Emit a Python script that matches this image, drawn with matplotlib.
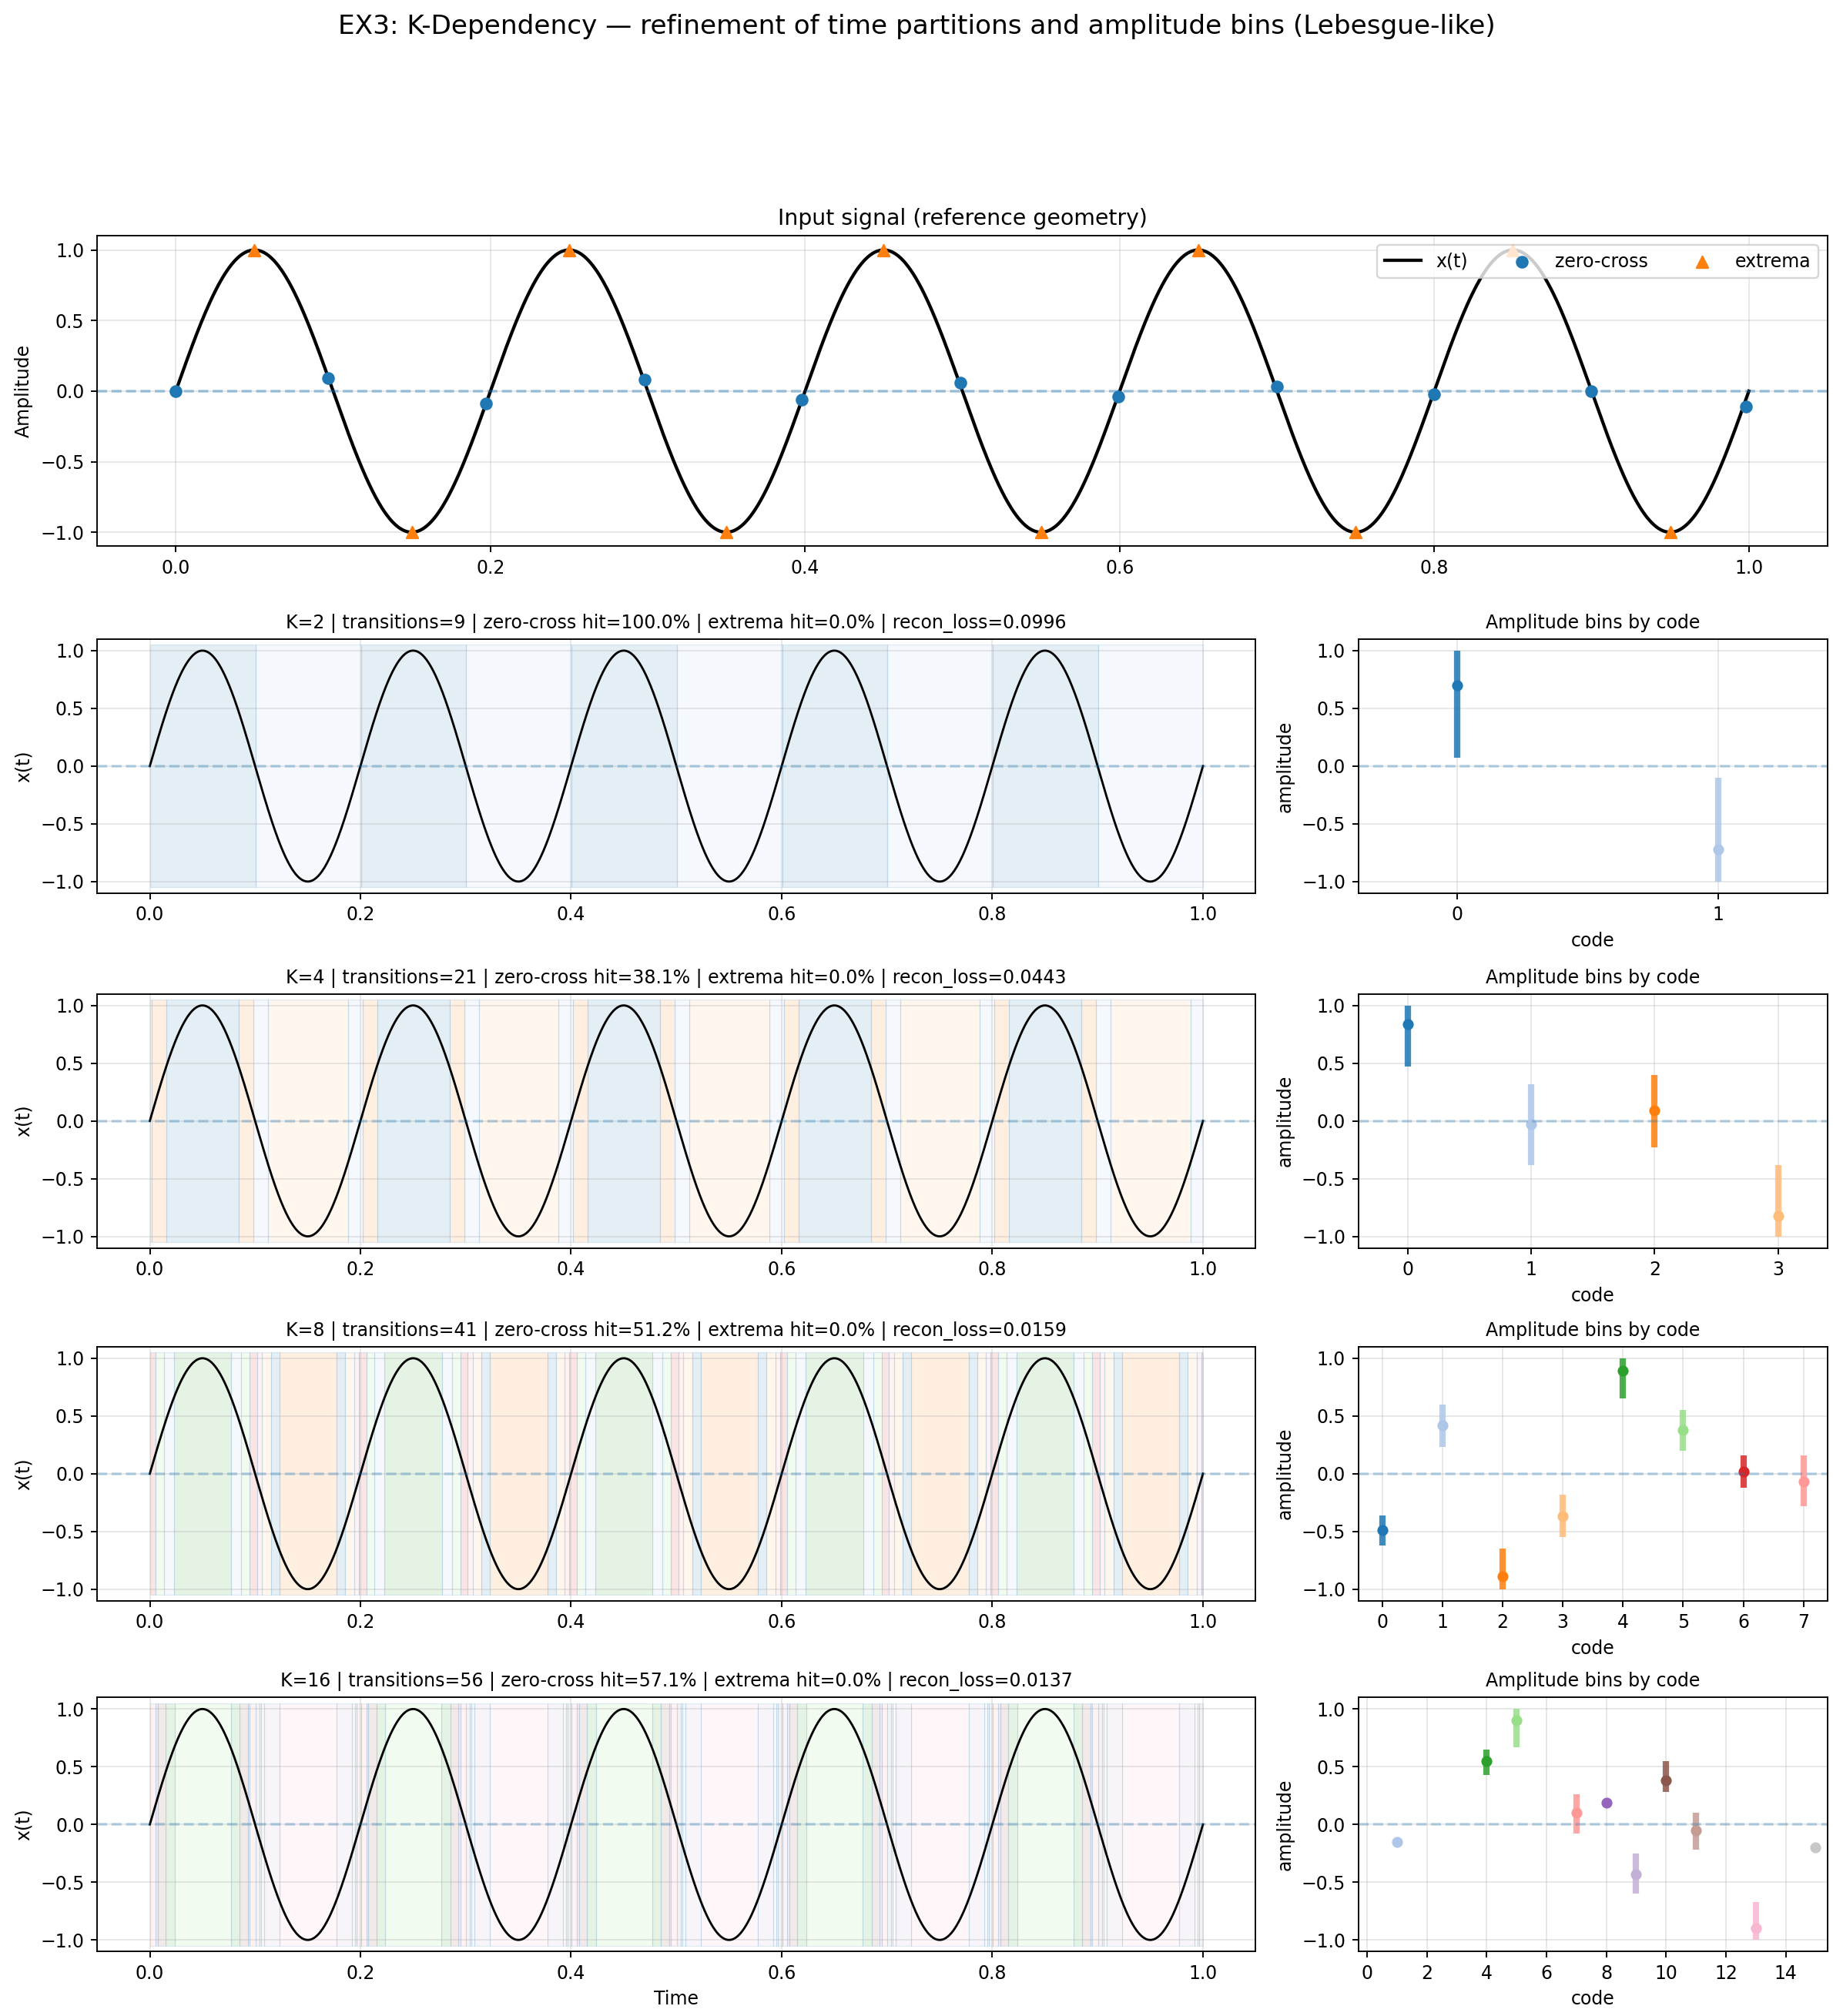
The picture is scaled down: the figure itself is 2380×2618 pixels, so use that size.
import numpy as np
import matplotlib
matplotlib.use("Agg")
import matplotlib.pyplot as plt

# zero-cross detections (time, amplitude) and extrema
zc_t = [0.0, 0.097, 0.197, 0.298, 0.398, 0.499, 0.599, 0.700, 0.800, 0.900, 0.998]
zc_v = [0.0, 0.09, -0.09, 0.08, -0.06, 0.06, -0.04, 0.03, -0.02, 0.0, -0.11]
ex_t = [0.05, 0.15, 0.25, 0.35, 0.45, 0.55, 0.65, 0.75, 0.85, 0.95]
ex_v = [1, -1, 1, -1, 1, -1, 1, -1, 1, -1]

ks = [2, 4, 8, 16]
transitions = [9, 21, 41, 56]
zc_hit = [100.0, 38.1, 51.2, 57.1]
ex_hit = [0.0, 0.0, 0.0, 0.0]
recon = [0.0996, 0.0443, 0.0159, 0.0137]

# amplitude bins: edges and code assigned to each interval
bin_edges = {
    2: [-1.01, 0.0, 1.01],
    4: [-1.01, -0.38, 0.05, 0.47, 1.01],
    8: [-1.01, -0.65, -0.45, -0.2, -0.05, 0.16, 0.4, 0.65, 1.01],
    16: [-1.01, -0.65, -0.25, -0.17, -0.12, 0.0, 0.16, 0.22, 0.45, 0.67, 1.01],
}
bin_codes = {
    2: [1, 0],
    4: [3, 1, 2, 0],
    8: [2, 0, 3, 7, 6, 5, 1, 4],
    16: [13, 9, 15, 1, 11, 7, 8, 10, 4, 5],
}

# per-code amplitude stats (code, mean, low, high)
code_ids = {2: [0, 1], 4: [0, 1, 2, 3], 8: [0, 1, 2, 3, 4, 5, 6, 7],
            16: [1, 4, 5, 7, 8, 9, 10, 11, 13, 15]}
code_mean = {2: [0.70, -0.72], 4: [0.84, -0.03, 0.09, -0.82],
             8: [-0.49, 0.42, -0.89, -0.37, 0.89, 0.38, 0.02, -0.07],
             16: [-0.15, 0.55, 0.90, 0.10, 0.19, -0.43, 0.38, -0.05, -0.90, -0.20]}
code_lo = {2: [0.07, -1.0], 4: [0.47, -0.38, -0.23, -1.0],
           8: [-0.62, 0.23, -1.0, -0.55, 0.65, 0.20, -0.12, -0.28],
           16: [-0.15, 0.43, 0.67, -0.08, 0.19, -0.60, 0.28, -0.22, -1.0, -0.20]}
code_hi = {2: [1.0, -0.10], 4: [1.0, 0.32, 0.40, -0.38],
           8: [-0.36, 0.60, -0.65, -0.18, 1.0, 0.55, 0.16, 0.16],
           16: [-0.15, 0.65, 1.0, 0.26, 0.19, -0.25, 0.55, 0.10, -0.67, -0.20]}

t = np.linspace(0, 1, 2001)
x = np.sin(10 * np.pi * t)
cmap = plt.get_cmap("tab20")

fig = plt.figure(figsize=(14, 15.4), dpi=170)
fig.suptitle("EX3: K-Dependency — refinement of time partitions and amplitude bins (Lebesgue-like)",
             fontsize=14.5, y=0.993)

ax = fig.add_axes([0.053, 0.729, 0.944, 0.154])
ax.plot(t, x, color="black", lw=1.8, label="x(t)")
ax.axhline(0, ls="--", color="tab:blue", alpha=0.4)
ax.scatter(zc_t, zc_v, color="tab:blue", s=36, zorder=3, label="zero-cross")
ax.scatter(ex_t, ex_v, color="tab:orange", marker="^", s=40, zorder=3, label="extrema")
ax.set_title("Input signal (reference geometry)", fontsize=12)
ax.set_ylabel("Amplitude")
ax.grid(alpha=0.3)
ax.legend(loc="upper right", ncol=3)

bottoms = [0.557, 0.381, 0.206, 0.032]
for i, k in enumerate(ks):
    axl = fig.add_axes([0.053, bottoms[i], 0.632, 0.126])
    axr = fig.add_axes([0.741, bottoms[i], 0.256, 0.126])
    codes = np.digitize(x, bin_edges[k][1:-1])
    mapped = np.array(bin_codes[k])[codes]
    change = np.where(np.diff(mapped) != 0)[0] + 1
    starts = np.concatenate([[0], change])
    ends = np.concatenate([change, [len(t) - 1]])
    for s, e in zip(starts, ends):
        c = mapped[s]
        axl.axvspan(t[s], t[e], ymin=0.023, ymax=0.977, facecolor=cmap(c % 20), alpha=0.12,
                    edgecolor="tab:blue", lw=0.5)
    axl.plot(t, x, color="black", lw=1.2)
    axl.axhline(0, ls="--", color="tab:blue", alpha=0.3)
    axl.set_ylim(-1.1, 1.1)
    axl.set_ylabel("x(t)")
    axl.grid(alpha=0.3)
    axl.set_title(f"K={k} | transitions={transitions[i]} | zero-cross hit={zc_hit[i]:.1f}% | "
                  f"extrema hit={ex_hit[i]:.1f}% | recon_loss={recon[i]:.4f}", fontsize=10)
    if i == len(ks) - 1:
        axl.set_xlabel("Time")

    for c, m, lo, hi in zip(code_ids[k], code_mean[k], code_lo[k], code_hi[k]):
        col = cmap(c % 20)
        axr.vlines(c, lo, hi, color=col, lw=3.5, alpha=0.85)
        axr.plot(c, m, "o", color=col, ms=5)
    axr.axhline(0, ls="--", color="tab:blue", alpha=0.3)
    axr.set_ylim(-1.1, 1.1)
    if k == 2:
        axr.set_xlim(-0.38, 1.42)
        axr.set_xticks([0, 1])
    elif k == 16:
        axr.set_xlim(-0.3, 15.4)
        axr.set_xticks(range(0, 16, 2))
    else:
        axr.set_xlim(-0.4, k - 0.6)
        axr.set_xticks(range(k))
    axr.set_title("Amplitude bins by code", fontsize=10)
    axr.set_xlabel("code")
    axr.set_ylabel("amplitude")
    axr.grid(alpha=0.3)

fig.savefig("out.png")
